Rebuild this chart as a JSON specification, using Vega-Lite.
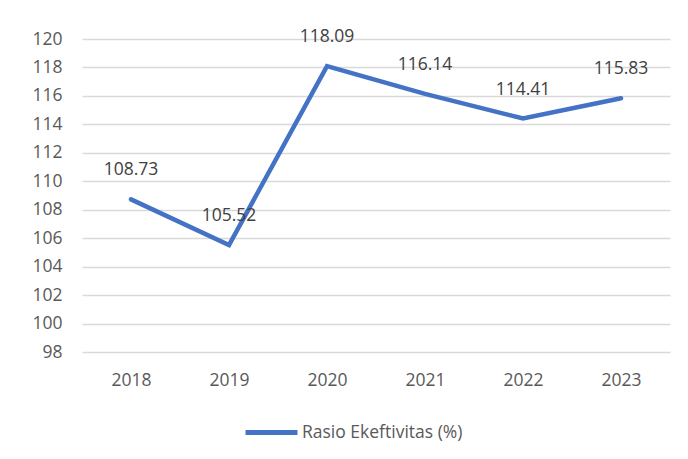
{
  "$schema": "https://vega.github.io/schema/vega-lite/v6.json",
  "width": 588,
  "height": 313,
  "autosize": {"type": "none"},
  "padding": {"left": 82, "top": 39, "right": 18, "bottom": 107},
  "background": "white",
  "config": {"view": {"stroke": null}, "font": "Open Sans"},
  "data": {"values": [
    {"year": "2018", "value": 108.73, "series": "Rasio Ekeftivitas (%)"},
    {"year": "2019", "value": 105.52, "series": "Rasio Ekeftivitas (%)"},
    {"year": "2020", "value": 118.09, "series": "Rasio Ekeftivitas (%)"},
    {"year": "2021", "value": 116.14, "series": "Rasio Ekeftivitas (%)"},
    {"year": "2022", "value": 114.41, "series": "Rasio Ekeftivitas (%)"},
    {"year": "2023", "value": 115.83, "series": "Rasio Ekeftivitas (%)"}
  ]},
  "encoding": {
    "x": {"field": "year", "type": "ordinal", "scale": {"type": "point", "padding": 0.5},
      "axis": {"title": null, "labelAngle": 0, "domain": false, "ticks": false, "labelPadding": 19, "labelFontSize": 17.5, "labelColor": "#595959", "labelFont": "Open Sans"}},
    "y": {"field": "value", "type": "quantitative", "scale": {"domain": [98, 120], "nice": false, "zero": false},
      "axis": {"title": null, "values": [98,100,102,104,106,108,110,112,114,116,118,120], "domain": false, "ticks": false, "labelPadding": 20, "labelFontSize": 17.5, "labelColor": "#595959", "gridColor": "#d9d9d9", "gridWidth": 1.5, "labelFont": "Open Sans"}}
  },
  "layer": [
    {"mark": {"type": "line", "strokeWidth": 4.5, "strokeCap": "round", "strokeJoin": "miter"},
      "encoding": {"color": {"field": "series", "type": "nominal", "scale": {"range": ["#4472C4"]},
        "legend": {"title": null, "orient": "none", "legendX": 161, "legendY": 365, "symbolType": "stroke", "symbolSize": 2700, "symbolStrokeWidth": 5, "labelFontSize": 17.5, "labelColor": "#595959", "labelFont": "Open Sans", "labelOffset": 2, "labelLimit": 400}}}},
    {"mark": {"type": "text", "dy": -29, "fontSize": 17.5, "color": "#404040", "font": "Open Sans"},
      "encoding": {"text": {"field": "value", "type": "quantitative", "format": ".2f"}}}
  ]
}
